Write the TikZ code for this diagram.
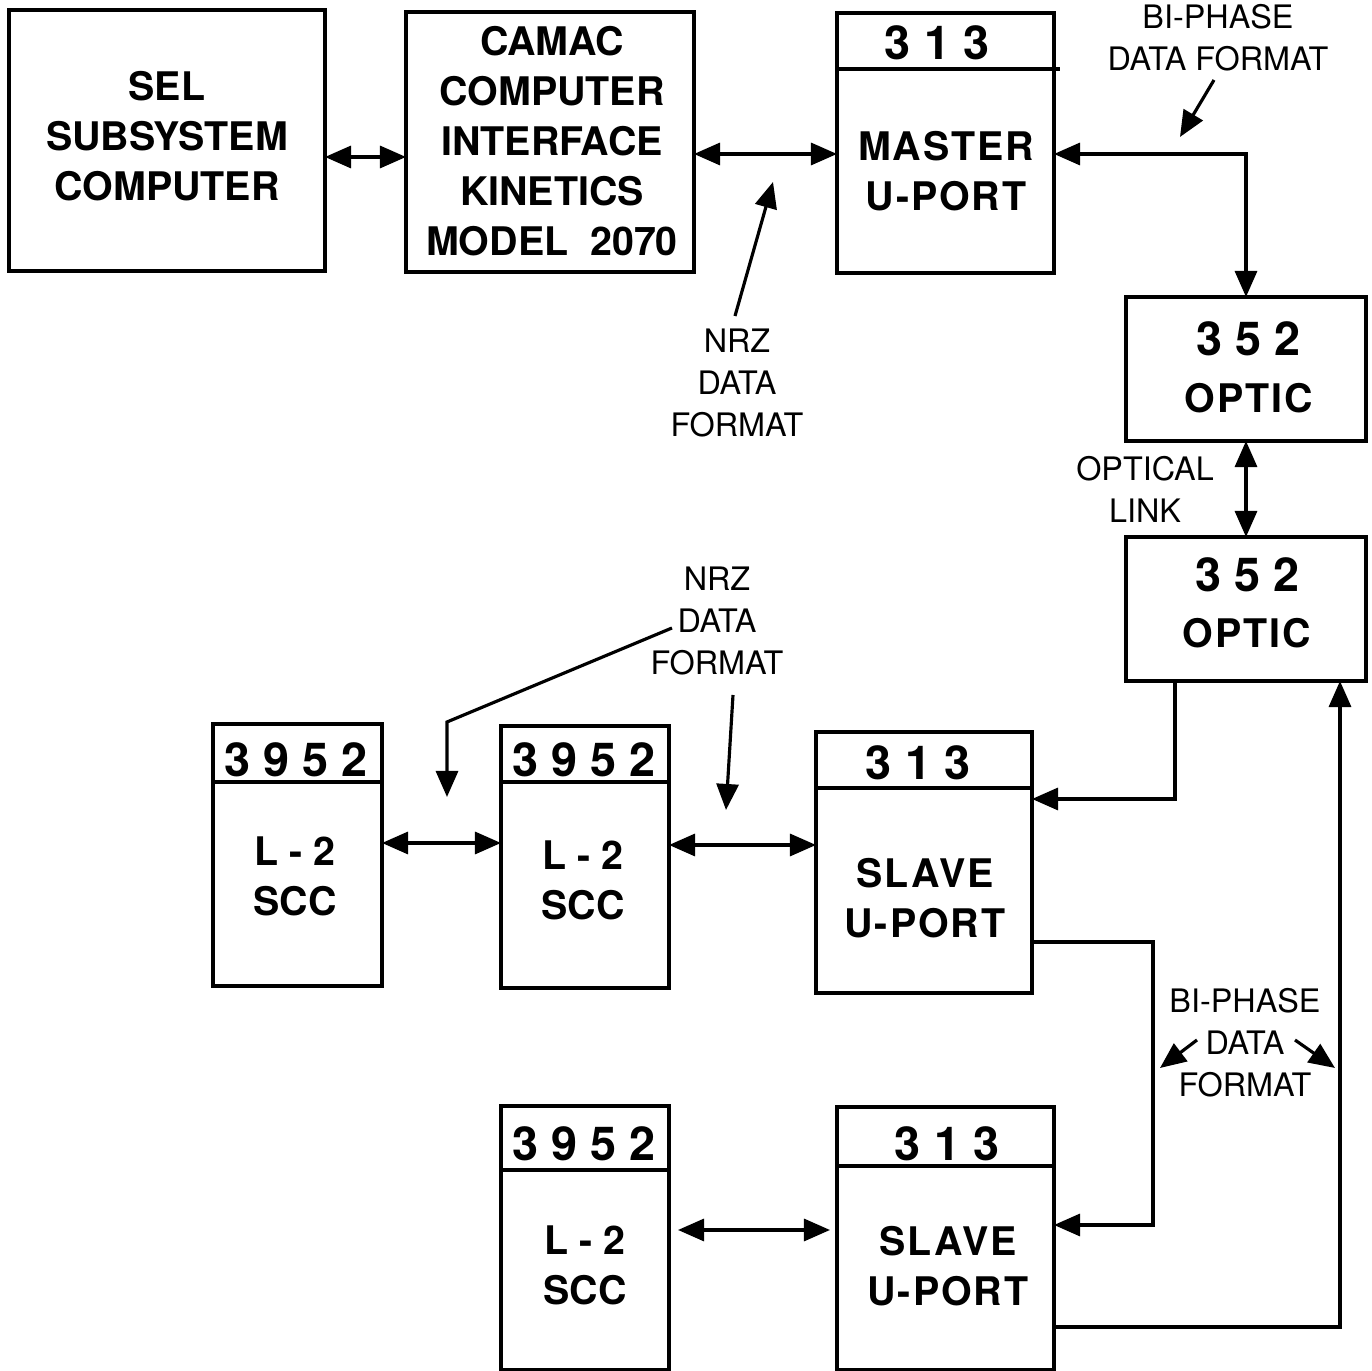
\documentclass[tikz,border=0pt]{standalone}
\usepackage{fontspec}
\setmainfont{TeX Gyre Heros}
\usetikzlibrary{arrows.meta,fit}
\begin{document}
\begin{tikzpicture}[x=0.01cm,y=-0.01cm,
  box/.style={draw, line width=0.9pt, inner sep=0pt, outer sep=0pt},
  bl/.style={font=\bfseries\fontsize{11.2}{14.2}\selectfont, align=center, inner sep=0pt},
  bls/.style={font=\bfseries\fontsize{11.2}{14.2}\selectfont\addfontfeature{LetterSpace=5}, align=center, inner sep=0pt},
  num/.style={font=\bfseries\fontsize{13.3}{16}\selectfont, inner sep=0pt},
  lab/.style={font=\fontsize{9.2}{11.95}\selectfont, align=center, inner sep=0pt},
  conn/.style={line width=0.9pt},
  tip/.tip={Triangle[length=0.26cm,width=0.22cm]},
  dbl/.style={conn, tip-tip},
  ptr/.style={conn, -tip}]
\useasboundingbox[fill=white] (0,0) rectangle (1372,1371);

% ---- boxes ----
\node[box, fit={(9,10) (325,271)}] (sel) {};
\node[box, fit={(406,12) (694,272)}] (camac) {};
\node[box, fit={(837,13) (1054,273)}] (master) {};
\node[box, fit={(1126,297) (1366,441)}] (optic1) {};
\node[box, fit={(1126,537) (1366,681)}] (optic2) {};
\node[box, fit={(213,724) (382,986)}] (sccA) {};
\node[box, fit={(501,726) (669,988)}] (sccB) {};
\node[box, fit={(816,732) (1032,993)}] (slave1) {};
\node[box, fit={(501,1106) (669,1370)}] (sccC) {};
\node[box, fit={(837,1107) (1054,1370)}] (slave2) {};

% header dividers
\draw[conn] (master.west |- 0,69) -- ([xshift=0.06cm]master.east |- 0,69);
\draw[conn] (sccA.west |- 0,782) -- (sccA.east |- 0,782);
\draw[conn] (sccB.west |- 0,782) -- (sccB.east |- 0,782);
\draw[conn] (slave1.west |- 0,788) -- (slave1.east |- 0,788);
\draw[conn] (sccC.west |- 0,1170) -- (sccC.east |- 0,1170);
\draw[conn] (slave2.west |- 0,1166) -- (slave2.east |- 0,1166);

% ---- box texts ----
\node[bl] (selT) at (167,136) {SEL\\SUBSYSTEM\\COMPUTER};
\node[bl] (camacT) at (552,141) {CAMAC\\COMPUTER\\INTERFACE\\KINETICS\\MODEL\ \ 2070};
\node[num] (masterN) at (937,43) {3 1 3};
\node[bls] (masterT) at (946,171) {MASTER\\U-PORT};
\node[num] (optic1N) at (1248,339) {3 5 2};
\node[bls] (optic1T) at (1249,398) {OPTIC};
\node[num] (optic2N) at (1247,575) {3 5 2};
\node[bls] (optic2T) at (1247,633) {OPTIC};
\node[num] (sccAN) at (296,760) {3 9 5 2};
\node[bl] (sccAT) at (295,876) {L - 2\\SCC};
\node[num] (sccBN) at (584,760) {3 9 5 2};
\node[bl] (sccBT) at (583,880) {L - 2\\SCC};
\node[num] (slave1N) at (918,763) {3 1 3};
\node[bls] (slave1T) at (925,898) {SLAVE\\U-PORT};
\node[num] (sccCN) at (584,1144) {3 9 5 2};
\node[bl] (sccCT) at (585,1265) {L - 2\\SCC};
\node[num] (slave2N) at (947,1144) {3 1 3};
\node[bls] (slave2T) at (948,1266) {SLAVE\\U-PORT};

% ---- free labels ----
\node[lab] (nrz1) at (737,383) {NRZ\\DATA\\FORMAT};
\node[lab] (nrz2) at (717,621) {NRZ\\DATA\\FORMAT};
\node[lab] (bp1) at (1218,38) {BI-PHASE\\DATA FORMAT};
\node[lab] (olink) at (1145,489) {OPTICAL\\LINK};
\node[lab] (bp2) at (1245,1043) {BI-PHASE\\DATA\\FORMAT};

% ---- connectors ----
\draw[dbl] (sel.east |- 0,157) -- (camac.west |- 0,157);
\draw[dbl] (camac.east |- 0,154) -- (master.west |- 0,154);
\draw[dbl] (master.east |- 0,154) -| (optic1.north);
\draw[dbl] (optic1.south) -- (optic2.north);
\draw[ptr] (optic2.south -| 1175,0) |- (slave1.east |- 0,799);
\draw[ptr] (slave1.east |- 0,942) -- (1153,942) -- (1153,1225) -- (slave2.east |- 0,1225);
\draw[ptr] (slave2.east |- 0,1327) -- (1340,1327) -- (optic2.south -| 1340,0);
\draw[dbl] (sccA.east |- 0,843) -- (sccB.west |- 0,843);
\draw[dbl] (sccB.east |- 0,845) -- (slave1.west |- 0,845);
\draw[dbl, shorten <=0.09cm, shorten >=0.07cm] (sccC.east |- 0,1230) -- (slave2.west |- 0,1230);

% ---- label pointers ----
\coordinate (n1a) at (735,316);
\coordinate (n1b) at (773,182);
\draw[ptr] (n1a) -- (n1b);
\coordinate (b1a) at (1214,80);
\coordinate (b1b) at (1180,137);
\draw[ptr] (b1a) -- (b1b);
\coordinate (n2a) at (672,628);
\coordinate (n2b) at (447,797);
\draw[ptr] (n2a) -- (447,722) -- (n2b);
\coordinate (n2c) at (733,695);
\coordinate (n2d) at (726,810);
\draw[ptr] (n2c) -- (n2d);
\coordinate (b2a) at (1197,1040);
\coordinate (b2b) at (1160,1068);
\draw[ptr] (b2a) -- (b2b);
\coordinate (b2c) at (1295,1040);
\coordinate (b2d) at (1335,1068);
\draw[ptr] (b2c) -- (b2d);
\end{tikzpicture}
\end{document}
